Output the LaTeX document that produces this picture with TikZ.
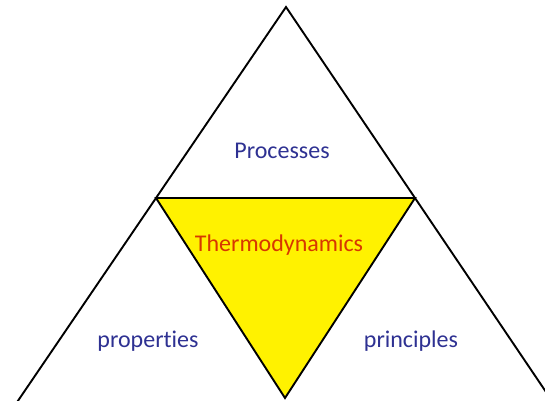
\documentclass[tikz,border=0pt]{standalone}
\usepackage{fontspec}
\setmainfont{Carlito}[Ligatures=NoCommon]
\usetikzlibrary{calc}
\definecolor{lblblue}{RGB}{46,49,146}
\definecolor{lblred}{RGB}{215,55,0}
\begin{document}
\begin{tikzpicture}[x=1pt,y=-1pt,
  edge/.style={draw=black,line width=1.9pt,line join=miter},
  lbl/.style={font=\fontsize{24}{28}\selectfont,anchor=base,inner sep=0pt}]
\useasboundingbox (0,0) rectangle (545,400);
\clip (0,0) rectangle (545,400);
\coordinate (apex) at (286,7);
\coordinate (ml) at (156,198);
\coordinate (mr) at (415,198);
\coordinate (bot) at (285,398);
\coordinate (bl) at ($(apex)!2.3!(ml)$);
\coordinate (br) at ($(apex)!2.3!(mr)$);
\fill[yellow] (ml) -- (mr) -- (bot) -- cycle;
\draw[edge] (ml) -- (mr) -- (bot) -- cycle;
\draw[edge] (bl) -- (apex) -- (br);
\node[lbl,text=lblblue] (proc) at (282,158) {Processes};
\node[lbl,text=lblred] (thermo) at (279,251) {Thermodynamics};
\node[lbl,text=lblblue] (prop) at (148,347) {properties};
\node[lbl,text=lblblue] (princ) at (411,347) {principles};
\end{tikzpicture}
\end{document}
